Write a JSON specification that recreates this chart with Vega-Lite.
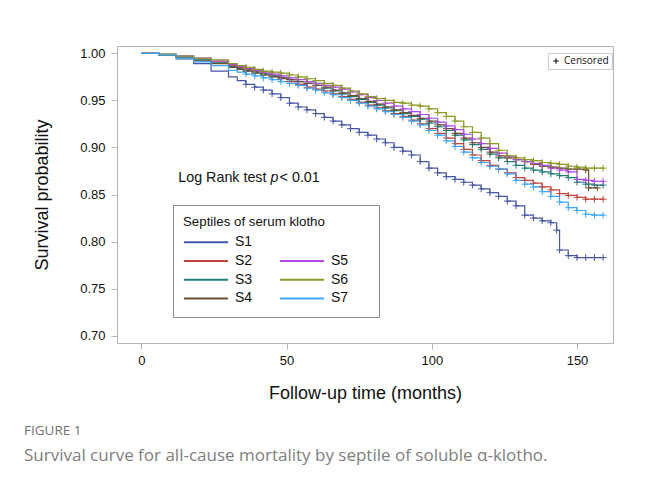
{
  "$schema": "https://vega.github.io/schema/vega-lite/v6.json",
  "width": 496,
  "height": 297,
  "autosize": {"type": "none"},
  "padding": {"left": 117, "top": 46, "right": 36, "bottom": 143},
  "background": "white",
  "config": {
    "view": {"stroke": "#b5b5b5", "strokeWidth": 1},
    "font": "Liberation Sans"
  },
  "title": {
    "text": "FIGURE 1",
    "subtitle": "Survival curve for all-cause mortality by septile of soluble α-klotho.",
    "orient": "bottom",
    "anchor": "start",
    "frame": "group",
    "dx": -93,
    "offset": 22,
    "font": "Open Sans",
    "fontSize": 13.5,
    "fontWeight": "normal",
    "color": "#737373",
    "subtitleFont": "Open Sans",
    "subtitleFontSize": 17,
    "subtitleColor": "#808080",
    "subtitlePadding": 10
  },
  "datasets": {
    "km": [
      {"g":"S1","t":0,"s":1.000},{"g":"S1","t":6,"s":0.998},{"g":"S1","t":12,"s":0.994},{"g":"S1","t":18,"s":0.989},{"g":"S1","t":24,"s":0.981},{"g":"S1","t":30,"s":0.975},{"g":"S1","t":33,"s":0.971},{"g":"S1","t":36,"s":0.967},{"g":"S1","t":39,"s":0.964},{"g":"S1","t":42,"s":0.961},{"g":"S1","t":45,"s":0.957},{"g":"S1","t":48,"s":0.953},{"g":"S1","t":51,"s":0.947},{"g":"S1","t":54,"s":0.943},{"g":"S1","t":57,"s":0.940},{"g":"S1","t":60,"s":0.936},{"g":"S1","t":63,"s":0.932},{"g":"S1","t":66,"s":0.928},{"g":"S1","t":69,"s":0.924},{"g":"S1","t":72,"s":0.920},{"g":"S1","t":75,"s":0.916},{"g":"S1","t":78,"s":0.913},{"g":"S1","t":81,"s":0.909},{"g":"S1","t":84,"s":0.905},{"g":"S1","t":87,"s":0.900},{"g":"S1","t":90,"s":0.896},{"g":"S1","t":93,"s":0.892},{"g":"S1","t":96,"s":0.885},{"g":"S1","t":99,"s":0.878},{"g":"S1","t":102,"s":0.873},{"g":"S1","t":105,"s":0.869},{"g":"S1","t":108,"s":0.866},{"g":"S1","t":111,"s":0.863},{"g":"S1","t":114,"s":0.860},{"g":"S1","t":117,"s":0.856},{"g":"S1","t":120,"s":0.852},{"g":"S1","t":123,"s":0.848},{"g":"S1","t":126,"s":0.843},{"g":"S1","t":129,"s":0.838},{"g":"S1","t":132,"s":0.828},{"g":"S1","t":135,"s":0.825},{"g":"S1","t":138,"s":0.822},{"g":"S1","t":141,"s":0.820},{"g":"S1","t":143,"s":0.812},{"g":"S1","t":144,"s":0.791},{"g":"S1","t":147,"s":0.785},{"g":"S1","t":150,"s":0.783},{"g":"S1","t":153,"s":0.783},{"g":"S1","t":156,"s":0.783},{"g":"S1","t":159,"s":0.783},

      {"g":"S2","t":0,"s":1.000},{"g":"S2","t":6,"s":0.999},{"g":"S2","t":12,"s":0.997},{"g":"S2","t":18,"s":0.994},{"g":"S2","t":24,"s":0.991},{"g":"S2","t":30,"s":0.987},{"g":"S2","t":33,"s":0.985},{"g":"S2","t":36,"s":0.983},{"g":"S2","t":39,"s":0.981},{"g":"S2","t":42,"s":0.978},{"g":"S2","t":45,"s":0.976},{"g":"S2","t":48,"s":0.973},{"g":"S2","t":51,"s":0.970},{"g":"S2","t":54,"s":0.967},{"g":"S2","t":57,"s":0.964},{"g":"S2","t":60,"s":0.962},{"g":"S2","t":63,"s":0.960},{"g":"S2","t":66,"s":0.957},{"g":"S2","t":69,"s":0.954},{"g":"S2","t":72,"s":0.951},{"g":"S2","t":75,"s":0.948},{"g":"S2","t":78,"s":0.945},{"g":"S2","t":81,"s":0.942},{"g":"S2","t":84,"s":0.939},{"g":"S2","t":87,"s":0.936},{"g":"S2","t":90,"s":0.933},{"g":"S2","t":93,"s":0.929},{"g":"S2","t":96,"s":0.925},{"g":"S2","t":99,"s":0.920},{"g":"S2","t":102,"s":0.915},{"g":"S2","t":105,"s":0.910},{"g":"S2","t":108,"s":0.904},{"g":"S2","t":111,"s":0.898},{"g":"S2","t":114,"s":0.892},{"g":"S2","t":117,"s":0.886},{"g":"S2","t":120,"s":0.881},{"g":"S2","t":123,"s":0.877},{"g":"S2","t":126,"s":0.873},{"g":"S2","t":129,"s":0.868},{"g":"S2","t":132,"s":0.865},{"g":"S2","t":135,"s":0.862},{"g":"S2","t":138,"s":0.858},{"g":"S2","t":141,"s":0.855},{"g":"S2","t":144,"s":0.851},{"g":"S2","t":147,"s":0.849},{"g":"S2","t":150,"s":0.847},{"g":"S2","t":153,"s":0.845},{"g":"S2","t":156,"s":0.845},{"g":"S2","t":159,"s":0.845},

      {"g":"S3","t":0,"s":1.000},{"g":"S3","t":6,"s":0.999},{"g":"S3","t":12,"s":0.996},{"g":"S3","t":18,"s":0.993},{"g":"S3","t":24,"s":0.990},{"g":"S3","t":30,"s":0.986},{"g":"S3","t":33,"s":0.984},{"g":"S3","t":36,"s":0.982},{"g":"S3","t":39,"s":0.980},{"g":"S3","t":42,"s":0.978},{"g":"S3","t":45,"s":0.976},{"g":"S3","t":48,"s":0.974},{"g":"S3","t":51,"s":0.972},{"g":"S3","t":54,"s":0.970},{"g":"S3","t":57,"s":0.968},{"g":"S3","t":60,"s":0.966},{"g":"S3","t":63,"s":0.963},{"g":"S3","t":66,"s":0.960},{"g":"S3","t":69,"s":0.957},{"g":"S3","t":72,"s":0.954},{"g":"S3","t":75,"s":0.951},{"g":"S3","t":78,"s":0.948},{"g":"S3","t":81,"s":0.945},{"g":"S3","t":84,"s":0.942},{"g":"S3","t":87,"s":0.939},{"g":"S3","t":90,"s":0.936},{"g":"S3","t":93,"s":0.933},{"g":"S3","t":96,"s":0.930},{"g":"S3","t":99,"s":0.926},{"g":"S3","t":102,"s":0.922},{"g":"S3","t":105,"s":0.918},{"g":"S3","t":108,"s":0.913},{"g":"S3","t":111,"s":0.908},{"g":"S3","t":114,"s":0.903},{"g":"S3","t":117,"s":0.898},{"g":"S3","t":120,"s":0.893},{"g":"S3","t":123,"s":0.889},{"g":"S3","t":126,"s":0.885},{"g":"S3","t":129,"s":0.881},{"g":"S3","t":132,"s":0.878},{"g":"S3","t":135,"s":0.876},{"g":"S3","t":138,"s":0.874},{"g":"S3","t":141,"s":0.872},{"g":"S3","t":144,"s":0.870},{"g":"S3","t":147,"s":0.868},{"g":"S3","t":150,"s":0.863},{"g":"S3","t":153,"s":0.861},{"g":"S3","t":156,"s":0.860},{"g":"S3","t":159,"s":0.860},

      {"g":"S4","t":0,"s":1.000},{"g":"S4","t":6,"s":0.998},{"g":"S4","t":12,"s":0.995},{"g":"S4","t":18,"s":0.992},{"g":"S4","t":24,"s":0.989},{"g":"S4","t":30,"s":0.985},{"g":"S4","t":33,"s":0.983},{"g":"S4","t":36,"s":0.981},{"g":"S4","t":39,"s":0.979},{"g":"S4","t":42,"s":0.977},{"g":"S4","t":45,"s":0.975},{"g":"S4","t":48,"s":0.974},{"g":"S4","t":51,"s":0.972},{"g":"S4","t":54,"s":0.970},{"g":"S4","t":57,"s":0.968},{"g":"S4","t":60,"s":0.966},{"g":"S4","t":63,"s":0.964},{"g":"S4","t":66,"s":0.961},{"g":"S4","t":69,"s":0.958},{"g":"S4","t":72,"s":0.955},{"g":"S4","t":75,"s":0.952},{"g":"S4","t":78,"s":0.949},{"g":"S4","t":81,"s":0.946},{"g":"S4","t":84,"s":0.943},{"g":"S4","t":87,"s":0.940},{"g":"S4","t":90,"s":0.937},{"g":"S4","t":93,"s":0.934},{"g":"S4","t":96,"s":0.931},{"g":"S4","t":99,"s":0.928},{"g":"S4","t":102,"s":0.924},{"g":"S4","t":105,"s":0.920},{"g":"S4","t":108,"s":0.915},{"g":"S4","t":111,"s":0.910},{"g":"S4","t":114,"s":0.905},{"g":"S4","t":117,"s":0.900},{"g":"S4","t":120,"s":0.895},{"g":"S4","t":123,"s":0.891},{"g":"S4","t":126,"s":0.889},{"g":"S4","t":129,"s":0.887},{"g":"S4","t":132,"s":0.885},{"g":"S4","t":135,"s":0.882},{"g":"S4","t":138,"s":0.880},{"g":"S4","t":141,"s":0.879},{"g":"S4","t":144,"s":0.878},{"g":"S4","t":147,"s":0.877},{"g":"S4","t":150,"s":0.877},{"g":"S4","t":153,"s":0.876},{"g":"S4","t":154,"s":0.857},{"g":"S4","t":157,"s":0.857},

      {"g":"S5","t":0,"s":1.000},{"g":"S5","t":6,"s":0.999},{"g":"S5","t":12,"s":0.997},{"g":"S5","t":18,"s":0.995},{"g":"S5","t":24,"s":0.992},{"g":"S5","t":30,"s":0.988},{"g":"S5","t":33,"s":0.986},{"g":"S5","t":36,"s":0.984},{"g":"S5","t":39,"s":0.982},{"g":"S5","t":42,"s":0.980},{"g":"S5","t":45,"s":0.978},{"g":"S5","t":48,"s":0.976},{"g":"S5","t":51,"s":0.974},{"g":"S5","t":54,"s":0.972},{"g":"S5","t":57,"s":0.970},{"g":"S5","t":60,"s":0.968},{"g":"S5","t":63,"s":0.966},{"g":"S5","t":66,"s":0.964},{"g":"S5","t":69,"s":0.962},{"g":"S5","t":72,"s":0.959},{"g":"S5","t":75,"s":0.956},{"g":"S5","t":78,"s":0.953},{"g":"S5","t":81,"s":0.950},{"g":"S5","t":84,"s":0.947},{"g":"S5","t":87,"s":0.944},{"g":"S5","t":90,"s":0.941},{"g":"S5","t":93,"s":0.938},{"g":"S5","t":96,"s":0.935},{"g":"S5","t":99,"s":0.931},{"g":"S5","t":102,"s":0.927},{"g":"S5","t":105,"s":0.923},{"g":"S5","t":108,"s":0.919},{"g":"S5","t":111,"s":0.914},{"g":"S5","t":114,"s":0.909},{"g":"S5","t":117,"s":0.904},{"g":"S5","t":120,"s":0.899},{"g":"S5","t":123,"s":0.894},{"g":"S5","t":126,"s":0.890},{"g":"S5","t":129,"s":0.887},{"g":"S5","t":132,"s":0.885},{"g":"S5","t":135,"s":0.883},{"g":"S5","t":138,"s":0.881},{"g":"S5","t":141,"s":0.878},{"g":"S5","t":144,"s":0.876},{"g":"S5","t":147,"s":0.874},{"g":"S5","t":150,"s":0.866},{"g":"S5","t":153,"s":0.865},{"g":"S5","t":156,"s":0.864},{"g":"S5","t":159,"s":0.864},

      {"g":"S6","t":0,"s":1.000},{"g":"S6","t":6,"s":0.999},{"g":"S6","t":12,"s":0.997},{"g":"S6","t":18,"s":0.995},{"g":"S6","t":24,"s":0.993},{"g":"S6","t":30,"s":0.989},{"g":"S6","t":33,"s":0.987},{"g":"S6","t":36,"s":0.985},{"g":"S6","t":39,"s":0.983},{"g":"S6","t":42,"s":0.981},{"g":"S6","t":45,"s":0.980},{"g":"S6","t":48,"s":0.979},{"g":"S6","t":51,"s":0.977},{"g":"S6","t":54,"s":0.975},{"g":"S6","t":57,"s":0.973},{"g":"S6","t":60,"s":0.971},{"g":"S6","t":63,"s":0.968},{"g":"S6","t":66,"s":0.966},{"g":"S6","t":69,"s":0.963},{"g":"S6","t":72,"s":0.960},{"g":"S6","t":75,"s":0.957},{"g":"S6","t":78,"s":0.954},{"g":"S6","t":81,"s":0.952},{"g":"S6","t":84,"s":0.950},{"g":"S6","t":87,"s":0.948},{"g":"S6","t":90,"s":0.947},{"g":"S6","t":93,"s":0.945},{"g":"S6","t":96,"s":0.944},{"g":"S6","t":99,"s":0.941},{"g":"S6","t":102,"s":0.937},{"g":"S6","t":105,"s":0.933},{"g":"S6","t":108,"s":0.928},{"g":"S6","t":111,"s":0.922},{"g":"S6","t":114,"s":0.916},{"g":"S6","t":117,"s":0.910},{"g":"S6","t":120,"s":0.904},{"g":"S6","t":123,"s":0.897},{"g":"S6","t":126,"s":0.891},{"g":"S6","t":129,"s":0.889},{"g":"S6","t":132,"s":0.887},{"g":"S6","t":135,"s":0.886},{"g":"S6","t":138,"s":0.884},{"g":"S6","t":141,"s":0.883},{"g":"S6","t":144,"s":0.882},{"g":"S6","t":147,"s":0.880},{"g":"S6","t":150,"s":0.879},{"g":"S6","t":153,"s":0.878},{"g":"S6","t":156,"s":0.878},{"g":"S6","t":159,"s":0.878},

      {"g":"S7","t":0,"s":1.000},{"g":"S7","t":6,"s":0.998},{"g":"S7","t":12,"s":0.995},{"g":"S7","t":18,"s":0.991},{"g":"S7","t":24,"s":0.987},{"g":"S7","t":30,"s":0.982},{"g":"S7","t":33,"s":0.980},{"g":"S7","t":36,"s":0.978},{"g":"S7","t":39,"s":0.976},{"g":"S7","t":42,"s":0.974},{"g":"S7","t":45,"s":0.972},{"g":"S7","t":48,"s":0.970},{"g":"S7","t":51,"s":0.968},{"g":"S7","t":54,"s":0.966},{"g":"S7","t":57,"s":0.963},{"g":"S7","t":60,"s":0.961},{"g":"S7","t":63,"s":0.958},{"g":"S7","t":66,"s":0.956},{"g":"S7","t":69,"s":0.953},{"g":"S7","t":72,"s":0.950},{"g":"S7","t":75,"s":0.947},{"g":"S7","t":78,"s":0.944},{"g":"S7","t":81,"s":0.941},{"g":"S7","t":84,"s":0.938},{"g":"S7","t":87,"s":0.935},{"g":"S7","t":90,"s":0.932},{"g":"S7","t":93,"s":0.928},{"g":"S7","t":96,"s":0.924},{"g":"S7","t":99,"s":0.918},{"g":"S7","t":102,"s":0.913},{"g":"S7","t":105,"s":0.907},{"g":"S7","t":108,"s":0.901},{"g":"S7","t":111,"s":0.895},{"g":"S7","t":114,"s":0.889},{"g":"S7","t":117,"s":0.884},{"g":"S7","t":120,"s":0.880},{"g":"S7","t":123,"s":0.877},{"g":"S7","t":126,"s":0.872},{"g":"S7","t":129,"s":0.865},{"g":"S7","t":132,"s":0.861},{"g":"S7","t":135,"s":0.858},{"g":"S7","t":138,"s":0.853},{"g":"S7","t":141,"s":0.848},{"g":"S7","t":144,"s":0.842},{"g":"S7","t":147,"s":0.836},{"g":"S7","t":150,"s":0.833},{"g":"S7","t":153,"s":0.829},{"g":"S7","t":156,"s":0.828},{"g":"S7","t":159,"s":0.828}
    ],
    "note": [
      {"part": "Log Rank test", "style": "normal", "t": 12.7, "s": 0.8636},
      {"part": "p", "style": "italic", "t": 44.5, "s": 0.8636},
      {"part": "< 0.01", "style": "normal", "t": 47.6, "s": 0.8636}
    ]
  },
  "layer": [
    {
      "data": {"name": "km"},
      "mark": {"type": "line", "interpolate": "step-after", "strokeWidth": 1.2},
      "encoding": {
        "x": {
          "field": "t", "type": "quantitative",
          "scale": {"domain": [-8.4, 162.4], "nice": false, "zero": false},
          "axis": {
            "values": [0, 50, 100, 150], "title": "Follow-up time (months)",
            "domain": false, "grid": false, "tickColor": "#b5b5b5", "tickSize": 6,
            "labelFont": "Liberation Sans", "labelFontSize": 13, "labelColor": "#111", "labelPadding": 5,
            "titleFont": "Liberation Sans", "titleFontSize": 18, "titleFontWeight": "normal", "titleColor": "#111",
            "titleBaseline": "alphabetic", "titleY": 55
          }
        },
        "y": {
          "field": "s", "type": "quantitative",
          "scale": {"domain": [0.6922, 1.0078], "nice": false, "zero": false},
          "axis": {
            "values": [0.7, 0.75, 0.8, 0.85, 0.9, 0.95, 1.0], "format": ".2f", "title": "Survival probability",
            "domain": false, "grid": false, "tickColor": "#b5b5b5", "tickSize": 6,
            "labelFont": "Liberation Sans", "labelFontSize": 13, "labelColor": "#111", "labelPadding": 6,
            "titleFont": "Liberation Sans", "titleFontSize": 18, "titleFontWeight": "normal", "titleColor": "#111",
            "titleBaseline": "alphabetic", "titleX": -70
          }
        },
        "color": {
          "field": "g", "type": "nominal",
          "scale": {
            "domain": ["S1", "S2", "S3", "S4", " ", "S5", "S6", "S7"],
            "range": ["#4656a6", "#c0443a", "#1f7f78", "#6b4e2e", "#ffffff", "#b04ae8", "#8c9a24", "#3aa8ff"]
          },
          "legend": {
            "title": "Septiles of serum klotho",
            "orient": "none", "legendX": 56, "legendY": 159,
            "columns": 2, "columnPadding": 26, "rowPadding": 2.7, "clipHeight": 16,
            "symbolType": "stroke", "symbolSize": 1936, "symbolStrokeWidth": 2,
            "labelOffset": 6,
            "labelExpr": "indexof(['S5','S6','S7'], datum.label) >= 0 ? datum.label + '\u2800\u2800' : datum.label",
            "labelFont": "Liberation Sans", "labelFontSize": 14, "labelColor": "#111",
            "titleFont": "Liberation Sans", "titleFontSize": 13.3, "titleFontWeight": "normal", "titleColor": "#111",
            "titlePadding": 6,
            "padding": 10, "strokeColor": "#888888", "fillColor": "#ffffff"
          }
        }
      }
    },
    {
      "data": {"name": "km"},
      "transform": [{"filter": "datum.t >= 36"}],
      "mark": {"type": "point", "filled": false, "strokeWidth": 1, "size": 45, "opacity": 1},
      "encoding": {
        "x": {"field": "t", "type": "quantitative"},
        "y": {"field": "s", "type": "quantitative"},
        "color": {"field": "g", "type": "nominal"},
        "shape": {
          "datum": "Censored",
          "scale": {"domain": ["Censored"], "range": ["M-1,0H1M0,-1V1"]},
          "legend": {
            "title": null, "orient": "none", "legendX": 431, "legendY": 7,
            "symbolStrokeColor": "#000", "symbolSize": 30, "symbolStrokeWidth": 1,
            "labelFont": "Open Sans", "labelFontSize": 10, "labelColor": "#111", "labelOffset": 3,
            "padding": 3, "strokeColor": "#cccccc", "fillColor": "#ffffff"
          }
        }
      }
    },
    {
      "data": {"name": "note"},
      "transform": [{"filter": "datum.style == 'normal'"}],
      "mark": {"type": "text", "align": "left", "baseline": "alphabetic", "font": "Liberation Sans", "fontSize": 14.3, "color": "#111"},
      "encoding": {
        "x": {"field": "t", "type": "quantitative"},
        "y": {"field": "s", "type": "quantitative"},
        "text": {"field": "part"}
      }
    },
    {
      "data": {"name": "note"},
      "transform": [{"filter": "datum.style == 'italic'"}],
      "mark": {"type": "text", "align": "left", "baseline": "alphabetic", "font": "Liberation Sans", "fontSize": 14.3, "fontStyle": "italic", "color": "#111"},
      "encoding": {
        "x": {"field": "t", "type": "quantitative"},
        "y": {"field": "s", "type": "quantitative"},
        "text": {"field": "part"}
      }
    }
  ]
}
